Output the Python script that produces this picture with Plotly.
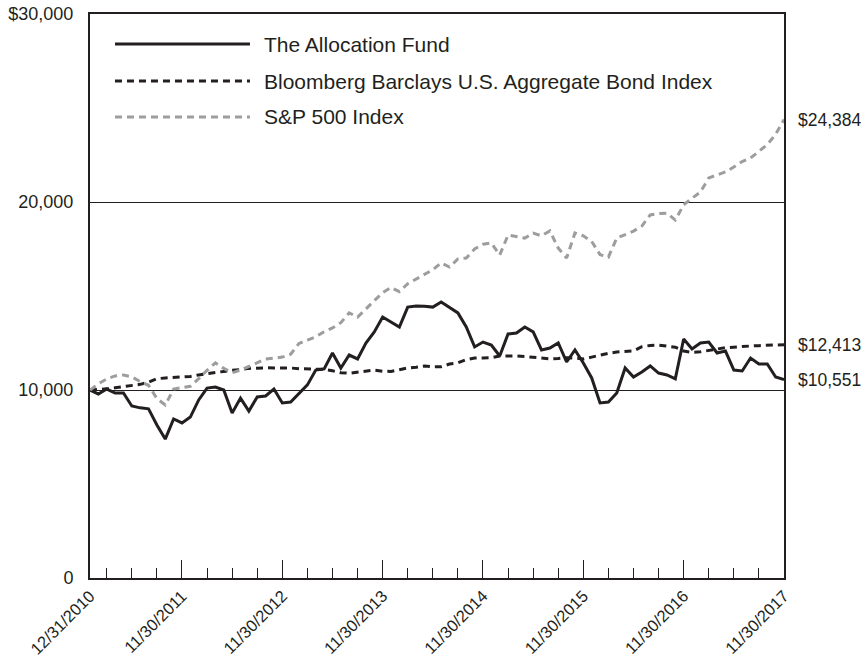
import pandas as pd
import plotly.graph_objects as go

# Month-end dates 12/31/2010 .. 11/30/2017
dates = pd.date_range("2010-12-31", "2017-11-30", freq="ME")
month_idx = list(range(len(dates)))

fund = [10000, 9790, 10050, 9840, 9840, 9150, 9050, 9000, 8140, 7390,
        8460, 8250, 8560, 9470, 10100, 10160, 10000, 8780, 9570, 8880,
        9630, 9680, 10050, 9310, 9360, 9840, 10270, 11060, 11120, 11970,
        11170, 11860, 11650, 12500, 13090, 13880, 13620, 13350, 14410, 14470,
        14450, 14410, 14680, 14410, 14100, 13350, 12290, 12550, 12390, 11810,
        12980, 13030, 13350, 13090, 12130, 12230, 12500, 11490, 12130, 11440,
        10640, 9310, 9360, 9840, 11170, 10690, 10960, 11280, 10900, 10800,
        10590, 12710, 12180, 12500, 12550, 11970, 12070, 11060, 11010, 11700,
        11380, 11380, 10690, 10551]

bond = [10000, 10020, 10060, 10120, 10170, 10230, 10300, 10420, 10600, 10640,
        10660, 10680, 10720, 10800, 10850, 10940, 10990, 11050, 11080, 11150,
        11170, 11180, 11170, 11180, 11170, 11130, 11120, 11110, 11100, 11020,
        10920, 10890, 10950, 11010, 11060, 11000, 10990, 11080, 11170, 11210,
        11270, 11230, 11240, 11380, 11450, 11620, 11700, 11700, 11720, 11810,
        11820, 11810, 11780, 11750, 11700, 11660, 11680, 11720, 11700, 11650,
        11750, 11860, 11950, 12020, 12050, 12080, 12300, 12370, 12390, 12340,
        12280, 12070, 12000, 12030, 12120, 12180, 12250, 12290, 12320, 12340,
        12360, 12390, 12420, 12413]

sp500 = [10000, 10330, 10590, 10750, 10800, 10700, 10450, 10250, 9550, 9200,
         10050, 10130, 10200, 10600, 11050, 11440, 11150, 10920, 11060, 11250,
         11450, 11650, 11690, 11750, 11900, 12480, 12650, 12830, 13100, 13300,
         13580, 14100, 13880, 14300, 14750, 15180, 15450, 15230, 15650, 15900,
         16150, 16400, 16760, 16540, 16970, 17020, 17500, 17750, 17820, 17180,
         18240, 18150, 18080, 18350, 18200, 18460, 17550, 17020, 18350, 18200,
         17900, 17200, 17070, 18080, 18250, 18450, 18720, 19310, 19380, 19410,
         19040, 19850, 20200, 20530, 21280, 21450, 21600, 21860, 22150, 22340,
         22700, 23050, 23600, 24384]

series_names = ["The Allocation Fund",
                "Bloomberg Barclays U.S. Aggregate Bond Index",
                "S&P 500 Index"]
end_labels = ["$10,551", "$12,413", "$24,384"]

x_major_idx = [0, 11, 23, 35, 47, 59, 71, 83]
x_major_text = [f"{dates[i].month}/{dates[i].day}/{dates[i].year}" for i in x_major_idx]
x_minor_idx = [i for i in month_idx if i % 3 == 2 and i not in x_major_idx]

y_tickvals = [0, 10000, 20000, 30000]
y_ticktext = ["0", "10,000", "20,000", "$30,000"]

INK = "#231f20"
GRAY = "#9d9d9d"
FONT = "Liberation Sans, Arial, sans-serif"

styles = [dict(color=INK, width=3, dash="solid"),
          dict(color=INK, width=3, dash="7px,5px"),
          dict(color=GRAY, width=3, dash="7px,5px")]
values = [fund, bond, sp500]

fig = go.Figure()
for name, vals, st in zip(series_names, values, styles):
    fig.add_trace(go.Scatter(x=month_idx, y=vals, mode="lines", name=name,
                             line=dict(color=st["color"], width=st["width"], dash=st["dash"]),
                             showlegend=False))

# end labels
for vals, lab in zip(values, end_labels):
    fig.add_annotation(x=month_idx[-1], y=vals[-1], text=lab, showarrow=False,
                       xanchor="left", yanchor="middle", xshift=12,
                       font=dict(family=FONT, size=17.5, color=INK))

# custom legend
leg_rows_y = [0.9468, 0.8812, 0.8174]
for (name, st), yy in zip(zip(series_names, styles), leg_rows_y):
    fig.add_shape(type="line", xref="paper", yref="paper",
                  x0=0.036, x1=0.2305, y0=yy, y1=yy,
                  line=dict(color=st["color"], width=3, dash=st["dash"]))
    fig.add_annotation(xref="paper", yref="paper", x=0.2478, y=yy, text=name,
                       showarrow=False, xanchor="left", yanchor="middle",
                       font=dict(family=FONT, size=21, color=INK))

fig.update_layout(
    width=865, height=657,
    margin=dict(l=90, r=81, t=14, b=79, autoexpand=False),
    plot_bgcolor="white", paper_bgcolor="white",
    font=dict(family=FONT, size=17, color=INK),
    showlegend=False,
    xaxis=dict(range=[0, 83], tickmode="array", tickvals=x_major_idx,
               ticktext=x_major_text, tickangle=-45, ticks="inside",
               ticklen=18, tickwidth=1, tickcolor=INK, showgrid=False,
               zeroline=False, showline=True, linecolor=INK, linewidth=2,
               mirror=True, automargin=False,
               tickfont=dict(family=FONT, size=16.5, color=INK),
               minor=dict(tickmode="array", tickvals=x_minor_idx, ticks="inside",
                          ticklen=10, tickwidth=1, tickcolor=INK, showgrid=False)),
    yaxis=dict(range=[0, 30000], tickmode="array", tickvals=y_tickvals,
               ticktext=y_ticktext, ticks="", showgrid=True, gridcolor=INK,
               gridwidth=1, zeroline=False, showline=True, linecolor=INK,
               linewidth=2, mirror=True, automargin=False,
               ticklabelstandoff=11,
               tickfont=dict(family=FONT, size=18, color=INK)),
)

fig.write_html("out.html", config={"displayModeBar": False},
               post_script="document.body.style.margin='0px';document.body.style.overflow='hidden';")
